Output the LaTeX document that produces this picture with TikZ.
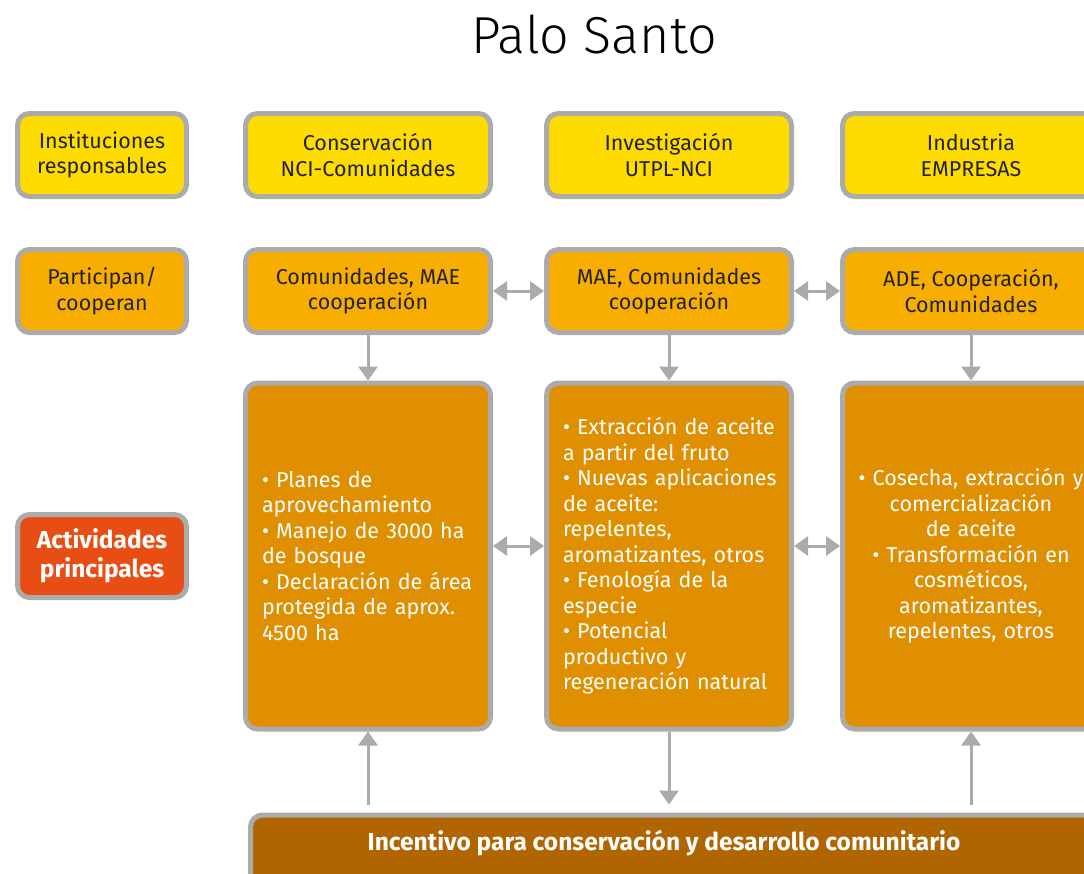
\documentclass[tikz,border=0pt]{standalone}
\usepackage{fontspec}
\setmainfont{Fira Sans}
\newfontfamily\titlefont{Fira Sans Light}
\usetikzlibrary{arrows.meta}
\definecolor{linegray}{HTML}{ABABAB}
\definecolor{instyellow}{HTML}{FFDC00}
\definecolor{coopyellow}{HTML}{F8AE00}
\definecolor{actorange}{HTML}{E08F00}
\definecolor{actred}{HTML}{E84E14}
\definecolor{incbrown}{HTML}{B06500}
\definecolor{textdark}{HTML}{222222}
\newcommand{\boxfont}{\fontsize{21.5}{25.5}\selectfont}
\newcommand{\boldfont}{\fontsize{24.5}{29}\selectfont\bfseries}
\tikzset{
  box/.style={draw=linegray, line width=5pt, rounded corners=12pt, inner sep=0pt,
    minimum height=83pt, align=center, font=\boxfont},
  inst/.style={box, fill=instyellow, text=textdark},
  coop/.style={box, fill=coopyellow, text=textdark},
  act/.style={box, fill=actorange, text=white, minimum height=346pt},
  tip/.tip={Triangle[width=19pt,length=14pt]},
  link/.style={draw=linegray, line width=3pt, -tip},
  both/.style={link, tip-tip}
}
\begin{document}
\begin{tikzpicture}[x=1pt, y=-1pt]
    \useasboundingbox (0,0) rectangle (1084,873);
    \clip (0,0) rectangle (1084,873);
    \node (title) at (594,34) {\titlefont\fontsize{52}{60}\selectfont Palo Santo};
    % first column: row labels
    \node[inst, minimum width=169pt] (instLbl) at (102,155) {Instituciones\\responsables};
    \node[coop, minimum width=169pt] (coopLbl) at (102,291) {Participan/\\cooperan};
    \node[box, fill=actred, text=white, minimum width=169pt, font=\boldfont]
        (actLbl) at (102,556) {Actividades\\principales};
    % responsible institutions
    \node[inst, minimum width=245pt] (instA) at (368,155) {Conservación\\NCI-Comunidades};
    \node[inst, minimum width=245pt] (instB) at (669,155) {Investigación\\UTPL-NCI};
    \node[inst, minimum width=257pt] (instC) at (971,155) {Industria\\EMPRESAS};
    % participants
    \node[coop, minimum width=245pt] (coopA) at (368,291) {Comunidades, MAE\\cooperación};
    \node[coop, minimum width=245pt] (coopB) at (669,291) {MAE, Comunidades\\cooperación};
    \node[coop, minimum width=257pt] (coopC) at (971,291) {ADE, Cooperación,\\Comunidades};
    % main activities
    \node[act, minimum width=245pt, text width=212pt, align=left] (actA) at (368,556)
        {• Planes de\\aprovechamiento\\• Manejo de 3000 ha\\de bosque\\• Declaración de área\\protegida de aprox.\\4500 ha};
    \node[act, minimum width=245pt, text width=212pt, align=left] (actB) at (669,556)
        {\mbox{• Extracción de aceite}\\a partir del fruto\\\mbox{• Nuevas aplicaciones}\\de aceite:\\repelentes,\\aromatizantes, otros\\• Fenología de la\\especie\\• Potencial\\productivo y\\\mbox{regeneración natural}};
    \node[act, minimum width=257pt, text width=240pt, align=center] (actC) at (971,556)
        {• Cosecha, extracción y\\comercialización\\de aceite\\• Transformación en\\cosméticos,\\aromatizantes,\\repelentes, otros};
    % incentive
    \node[box, fill=incbrown, minimum width=847pt, minimum height=84pt] (inc) at (674,857) {};
    \node[text=white, font=\boldfont] (incLbl) at (664,843)
        {Incentivo para conservación y desarrollo comunitario};
    % connectors
    \draw[both] (coopA) -- (coopB);
    \draw[both] (coopB) -- (coopC);
    \draw[both] ([yshift=10pt]actA.east) -- ([yshift=10pt]actB.west);
    \draw[both] ([yshift=10pt]actB.east) -- ([yshift=10pt]actC.west);
    \foreach \c in {A,B,C}
        \draw[link] (coop\c) -- (act\c);
    \draw[link, shorten <=8pt] (actA.south |- inc.north) -- (actA.south);
    \draw[link, shorten <=8pt] (actC.south |- inc.north) -- (actC.south);
    \draw[link, shorten >=8pt] (actB.south) -- (actB.south |- inc.north);
\end{tikzpicture}
\end{document}
